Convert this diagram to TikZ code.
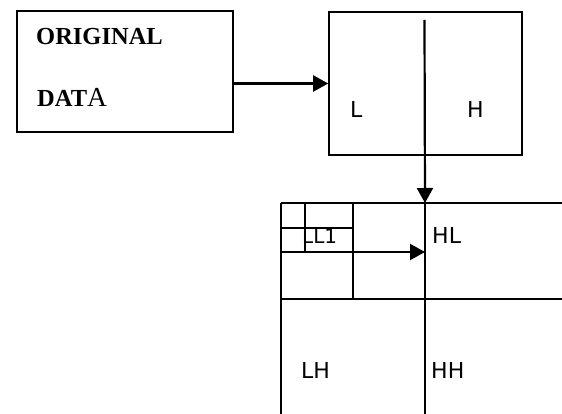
\documentclass[tikz,border=0pt]{standalone}
\usepackage{fontspec}
\setmainfont{Liberation Serif}
\newfontfamily\labfont{DejaVu Sans}
\usetikzlibrary{arrows.meta}
\tikzset{
  box/.style={draw, line width=1.6pt, rectangle, inner sep=0pt},
  gridline/.style={line width=1.8pt},
  arr/.style={line width=2.2pt, -{Triangle[length=15pt,width=16pt]}},
  titletext/.style={anchor=base west, inner sep=0pt, font=\fontsize{24.5}{28}\selectfont\bfseries},
  lab/.style={anchor=base west, inner sep=0pt, font=\labfont\fontsize{22}{26}\selectfont},
  smalllab/.style={anchor=base west, inner sep=0pt, font=\labfont\fontsize{20}{24}\selectfont}
}
\begin{document}
\begin{tikzpicture}[x=1pt,y=-1pt]
\useasboundingbox (0,0) rectangle (562,414);
% original data box
\node[box, minimum width=216pt, minimum height=121pt] (orig) at (125,71.5) {};
\node[titletext] (t1) at (36,45) {ORIGINAL};
\node[titletext] (t2) at (37,107) {DAT{\mdseries\fontsize{27.5}{30}\selectfont A}};
% L H box
\node[box, minimum width=193pt, minimum height=143pt] (lh) at (425.5,83.5) {};
\node[lab] (L) at (350,118) {L};
\node[lab] (H) at (467,118) {H};
\coordinate (vtop) at (424.5,20);
% grid corners
\coordinate (g00) at (281,203);
\coordinate (gc0) at (425,203);
\coordinate (gr0) at (562,203);
\coordinate (g0m) at (281,299);
\coordinate (gcm) at (425,299);
\coordinate (grm) at (562,299);
\coordinate (g0b) at (281,414);
\coordinate (gcb) at (425,414);
\coordinate (i0) at (353,203);
\coordinate (im) at (353,299);
\coordinate (a0) at (281,252);
\coordinate (ac) at (425,252);
\coordinate (s0) at (305,203);
\coordinate (sb) at (305,252);
\coordinate (h0) at (281,228);
\coordinate (h1) at (353,228);
% arrows
\draw[arr] (orig.east |- lh.west) -- (lh.west);
\draw[arr] (vtop) -- (gc0);
% grid
\draw[gridline] (g00) -- (gr0);
\draw[gridline] (g0m) -- (grm);
\draw[gridline] (g00) -- (g0b);
\draw[gridline] (gc0) -- (gcb);
\draw[gridline] (i0) -- (im);
\draw[gridline] (s0) -- (sb);
\draw[gridline] (h0) -- (h1);
\draw[arr] (a0) -- (ac);
% labels
\node[smalllab] (ll1) at (302,243) {LL1};
\node[lab] (hl) at (432,243) {HL};
\node[lab] (lhl) at (301,378) {LH};
\node[lab] (hh) at (431,378) {HH};
\end{tikzpicture}
\end{document}
